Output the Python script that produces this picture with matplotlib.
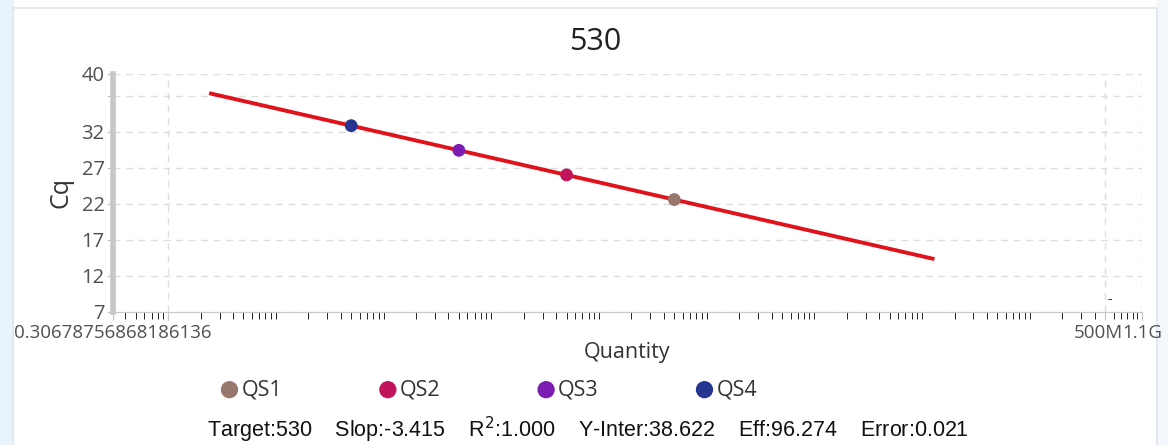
import matplotlib.pyplot as plt
import matplotlib.transforms as mtrans
import numpy as np
from matplotlib.patches import Rectangle
from matplotlib.ticker import FixedLocator, LogLocator, NullFormatter

# 标准曲线数据
names = ['QS1', 'QS2', 'QS3', 'QS4']
quantity = [50000, 5000, 500, 50]
cq = [22.58, 25.99, 29.40, 32.82]
colors = ['#98786c', '#c0155b', '#7a1db0', '#26358f']

slope = -3.415
intercept = 38.622
line_range = [2.5, 1.25e7]

x_ticks = [0.30678756868186136, 1, 5e8, 1.1e9]
x_ticklabels = ['0.30678756868186136', '', '500M', '1.1G']
y_ticks = [7, 12, 17, 22, 27, 32, 37, 40]
y_ticklabels = ['7', '12', '17', '22', '27', '32', '', '40']

stats = 'Target:530    Slop:-3.415    R$^2$:1.000    Y-Inter:38.622    Eff:96.274    Error:0.021'

plt.rcParams['font.family'] = ['Open Sans', 'DejaVu Sans']

fig = plt.figure(figsize=(11.68, 4.45), dpi=100)

# 外框
fig.patches.append(Rectangle((0, 0), 0.011, 1, transform=fig.transFigure,
                             color='#e9f3fc', zorder=-2))
fig.patches.append(Rectangle((0.991, 0), 0.009, 1, transform=fig.transFigure,
                             color='#f4f8fc', zorder=-2))
fig.patches.append(Rectangle((0.011, -0.01), 0.98, 0.993, transform=fig.transFigure,
                             fill=False, edgecolor='#dfe6ee', lw=1.2, zorder=-1))

ax = fig.add_axes([0.0967, 0.299, 0.881, 0.535])

xs = np.array(line_range)
ax.plot(xs, intercept + slope * np.log10(xs), color='#e0121c', lw=2.8, zorder=2)
for n, q, c, col in zip(names, quantity, cq, colors):
    ax.scatter(q, c, s=85, color=col, zorder=3, label=n, edgecolors='none')

ax.set_xscale('log')
ax.set_xlim(x_ticks[0], x_ticks[-1])
ax.set_ylim(7, 40)

ax.xaxis.set_major_locator(FixedLocator(x_ticks))
ax.set_xticklabels(x_ticklabels)
ax.xaxis.set_minor_locator(LogLocator(base=10, subs=np.arange(1, 10), numticks=30))
ax.xaxis.set_minor_formatter(NullFormatter())
ax.set_yticks(y_ticks)
ax.set_yticklabels(y_ticklabels)

ax.tick_params(axis='both', colors='#c4c4c4', labelcolor='#505050')
ax.tick_params(axis='x', which='major', length=6, pad=3, labelsize=13.5)
ax.tick_params(axis='x', which='minor', length=5)
ax.tick_params(axis='y', length=4, pad=2, labelsize=14.5)

# 500M 与 1.1G 两个标签挨得很近，稍微错开
lbls = ax.get_xticklabels()
lbls[2].set_horizontalalignment('right')
lbls[2].set_transform(lbls[2].get_transform()
                      + mtrans.ScaledTranslation(0.18, 0, fig.dpi_scale_trans))

ax.grid(True, which='major', ls=(0, (5, 4)), color='#dedede', lw=1)

for s in ['top', 'right']:
    ax.spines[s].set_visible(False)
ax.spines['bottom'].set_color('#c8c8c8')
ax.spines['left'].set_color('#c6c6c6')
ax.spines['left'].set_linewidth(4)

ax.text(5e8 * 1.1, 8.3, '-', fontsize=10, color='#333333', ha='center')

fig.text(0.510, 0.905, '530', fontsize=22, color='#222222', ha='center', va='center')
ax.set_xlabel('Quantity', fontsize=15.5, color='#333333', labelpad=0)
ax.set_ylabel('Cq', fontsize=18, color='#333333', labelpad=6)

fig.legend(loc='center left', bbox_to_anchor=(0.190, 0.124), ncol=4, frameon=False,
           fontsize=15.5, handlelength=0.7, handletextpad=0.2, columnspacing=4.57,
           markerscale=1.35, labelcolor='#333333', borderpad=0, borderaxespad=0)

fig.text(0.177, 0.033, stats, fontsize=15.5, va='center',
         family=['Liberation Sans Narrow', 'Liberation Sans', 'DejaVu Sans'],
         color='#111111')

plt.savefig('out.png', dpi=100)
